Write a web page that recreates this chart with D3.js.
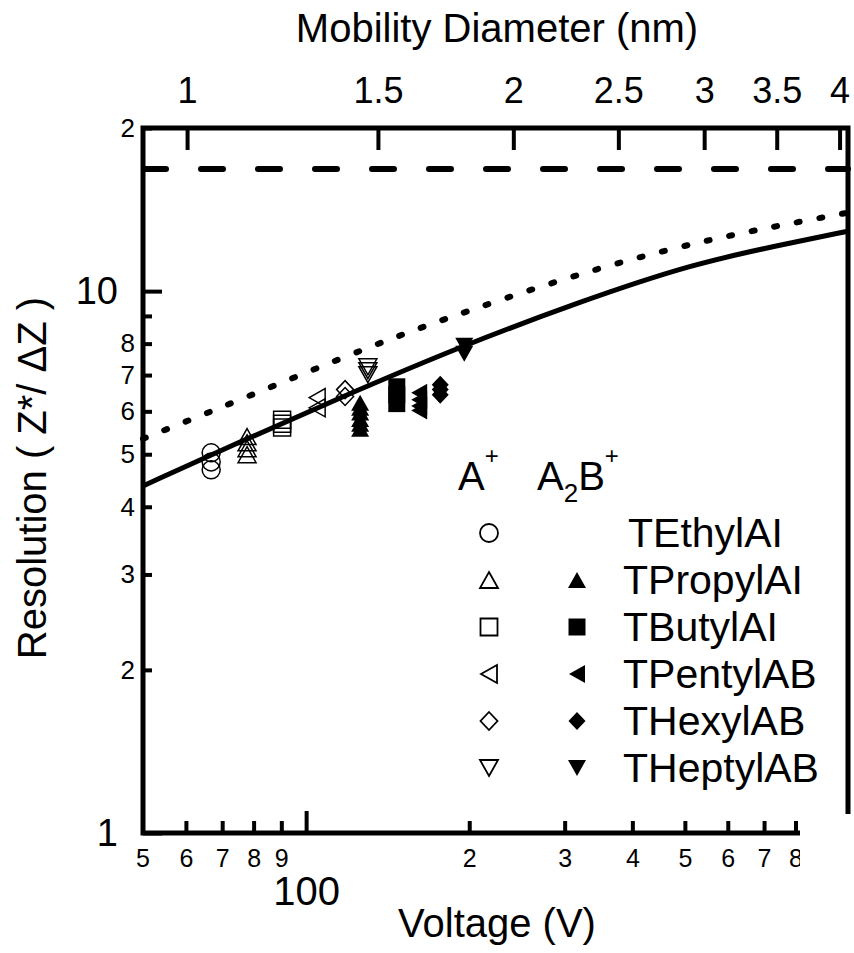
<!DOCTYPE html>
<html>
<head>
<meta charset="utf-8">
<script src="https://cdn.jsdelivr.net/npm/d3@7"></script>
<style>
  body { margin: 0; background: #fff; }
  text { font-family: "Liberation Sans", Arial, sans-serif; fill: #000; }
</style>
</head>
<body>
<script>
// voltage / resolution curves
var solidV = [50, 75.5, 115.6, 192.5, 316.6, 518, 793, 1000];
var solidR = [4.37, 5.27, 6.36, 7.90, 9.52, 11.25, 12.3, 12.9];
var dottedV = [50, 75.5, 133, 196.6, 349, 581, 940, 1000];
var dottedR = [5.34, 6.30, 7.96, 9.17, 11.10, 12.61, 13.79, 13.96];
var dashedR = 16.8;

// compounds and markers
var compounds = ["TEthylAI", "TPropylAI", "TButylAI", "TPentylAB", "THexylAB", "THeptylAB"];
var shapes = ["circle", "up", "square", "left", "diamond", "down"];
var monomerV = [66.8, 77.8, 90.3, 104.8, 118, 130];
var monomerR = [[5.03, 4.84, 4.68], [5.39, 5.25, 5.12, 4.99], [5.79, 5.69, 5.60], [6.36, 6.09], [6.58, 6.39], [7.25, 7.13, 7.01]];
var dimerV = [null, 125.8, 147, 161.7, 176.8, 195.8];
var dimerR = [[], [6.22, 6.09, 5.97, 5.81, 5.69, 5.57], [6.66, 6.44, 6.20], [6.49, 6.30, 6.14, 6.02], [6.72, 6.58, 6.44], [7.93, 7.66]];

// ticks
var xMinorTicks = [60, 70, 80, 90, 200, 300, 400, 500, 600, 700, 800];
var xMinorLabels = ["6", "7", "8", "9", "2", "3", "4", "5", "6", "7", "8"];
var yMinorTicks = [2, 3, 4, 5, 6, 7, 8, 9, 20];
var yMinorLabels = ["2", "3", "4", "5", "6", "7", "8", "", "2"];
var yMajorTicks = [1, 10];
var diamTicks = [1, 1.5, 2, 2.5, 3, 3.5, 4];
var voltsPerNm2 = 60.3; // V = 60.3 * d^2

var width = 854, height = 953;
var svg = d3.select("body").append("svg").attr("width", width).attr("height", height);

var x = d3.scaleLog().domain([50, 1000]).range([143, 848]);
var y = d3.scaleLog().domain([1, 20]).range([833, 128]);
var xTop = d3.scaleLog()
    .domain([Math.sqrt(50 / voltsPerNm2), Math.sqrt(1000 / voltsPerNm2)])
    .range([143, 848]);

function styleAxis(g, fontSize) {
    g.select(".domain").remove();
    g.selectAll(".tick line").attr("stroke", "#000").attr("stroke-width", 4);
    g.selectAll(".tick text").attr("font-size", fontSize).attr("fill", "#000")
        .attr("font-family", "Liberation Sans, Arial, sans-serif");
}

// curves
var line = d3.line().x(function(d) { return x(d[0]); }).y(function(d) { return y(d[1]); })
    .curve(d3.curveBasis);

svg.append("path")
    .datum(solidV.map(function(v, i) { return [v, solidR[i]]; }))
    .attr("d", line).attr("fill", "none").attr("stroke", "#000").attr("stroke-width", 5);

svg.append("path")
    .datum(dottedV.map(function(v, i) { return [v, dottedR[i]]; }))
    .attr("d", line).attr("fill", "none").attr("stroke", "#000").attr("stroke-width", 6)
    .attr("stroke-linecap", "round").attr("stroke-dasharray", "3,20");

svg.append("path")
    .datum([[50, dashedR], [1000, dashedR]])
    .attr("d", line).attr("fill", "none").attr("stroke", "#000").attr("stroke-width", 6)
    .attr("stroke-linecap", "round").attr("stroke-dasharray", "22,35").attr("stroke-dashoffset", -1);

// marker shapes
function shapePath(s) {
    var h = 9;
    if (s === "circle") return d3.symbol().type(d3.symbolCircle).size(Math.PI * h * h)();
    if (s === "up") return "M0,-8L9,8L-9,8Z";
    if (s === "down") return "M0,8L9,-8L-9,-8Z";
    if (s === "left") return "M-8,0L8,-9L8,9Z";
    if (s === "diamond") return "M0,-9L8.5,0L0,9L-8.5,0Z";
    return "M-8.5,-8.5L8.5,-8.5L8.5,8.5L-8.5,8.5Z";
}

var openPts = [], filledPts = [];
compounds.forEach(function(c, i) {
    monomerR[i].forEach(function(r) { openPts.push({ v: monomerV[i], r: r, s: shapes[i] }); });
    dimerR[i].forEach(function(r) { filledPts.push({ v: dimerV[i], r: r, s: shapes[i] }); });
});

svg.selectAll(".open").data(openPts).enter().append("path")
    .attr("class", "open")
    .attr("transform", function(d) { return "translate(" + x(d.v) + "," + y(d.r) + ")"; })
    .attr("d", function(d) { return shapePath(d.s); })
    .attr("fill", "none").attr("stroke", "#000").attr("stroke-width", 1.5);

svg.selectAll(".filled").data(filledPts).enter().append("path")
    .attr("class", "filled")
    .attr("transform", function(d) { return "translate(" + x(d.v) + "," + y(d.r) + ")"; })
    .attr("d", function(d) { return shapePath(d.s); })
    .attr("fill", "#000").attr("stroke", "none");

// axes
svg.append("g").attr("transform", "translate(143,0)")
    .call(d3.axisLeft(y).tickValues(yMinorTicks).tickSizeInner(-9).tickSizeOuter(0).tickPadding(8)
        .tickFormat(function(d, i) { return yMinorLabels[i]; }))
    .call(styleAxis, 26);

svg.append("g").attr("transform", "translate(143,0)")
    .call(d3.axisLeft(y).tickValues(yMajorTicks).tickSizeInner(-19).tickSizeOuter(0).tickPadding(25)
        .tickFormat(d3.format("d")))
    .call(styleAxis, 38);

svg.append("g").attr("transform", "translate(0,833)")
    .call(d3.axisBottom(x).tickValues(xMinorTicks).tickSizeInner(-12).tickSizeOuter(0).tickPadding(16)
        .tickFormat(function(d, i) { return xMinorLabels[i]; }))
    .call(styleAxis, 25);

svg.append("g").attr("transform", "translate(0,833)")
    .call(d3.axisBottom(x).tickValues([100]).tickSizeInner(-22).tickSizeOuter(0).tickPadding(44)
        .tickFormat(d3.format("d")))
    .call(styleAxis, 40);

// "5" label at the left corner
svg.append("text").attr("x", x(50)).attr("y", 867).attr("text-anchor", "middle")
    .attr("font-size", 25).text("5");

svg.append("g").attr("transform", "translate(0,128)")
    .call(d3.axisTop(xTop).tickValues(diamTicks).tickSizeInner(-22).tickSizeOuter(0).tickPadding(25)
        .tickFormat(d3.format("")))
    .call(styleAxis, 36);

// frame
svg.append("rect")
    .attr("x", x.range()[0]).attr("y", y.range()[1])
    .attr("width", x.range()[1] - x.range()[0]).attr("height", y.range()[0] - y.range()[1])
    .attr("fill", "none").attr("stroke", "#000").attr("stroke-width", 5);

// clipped bottom-right corner as in the original
svg.append("rect").attr("x", 800).attr("y", 814).attr("width", 60).attr("height", 70).attr("fill", "#fff");

// axis titles
svg.append("text").attr("x", 497).attr("y", 42).attr("text-anchor", "middle")
    .attr("font-size", 40).text("Mobility Diameter (nm)");

svg.append("text").attr("x", 497).attr("y", 937).attr("text-anchor", "middle")
    .attr("font-size", 40).text("Voltage (V)");

svg.append("text").attr("transform", "translate(46,478) rotate(-90)").attr("text-anchor", "middle")
    .attr("font-size", 40).text("Resolution ( Z*/ \u0394Z )");

// legend
var leg = svg.append("g");
var a1 = leg.append("text").attr("x", 458).attr("y", 490).attr("font-size", 40);
a1.append("tspan").text("A");
a1.append("tspan").attr("font-size", 24).attr("dy", -26).text("+");

var a2 = leg.append("text").attr("x", 537).attr("y", 490).attr("font-size", 40);
a2.append("tspan").text("A");
a2.append("tspan").attr("font-size", 26).attr("dy", 12).text("2");
a2.append("tspan").attr("dy", -12).text("B");
a2.append("tspan").attr("font-size", 24).attr("dy", -26).text("+");

compounds.forEach(function(c, i) {
    var cy = 533 + i * 47;
    leg.append("path").attr("transform", "translate(489," + cy + ")")
        .attr("d", shapePath(shapes[i])).attr("fill", "none").attr("stroke", "#000").attr("stroke-width", 1.8);
    if (dimerR[i].length) {
        leg.append("path").attr("transform", "translate(577," + cy + ")")
            .attr("d", shapePath(shapes[i])).attr("fill", "#000");
    }
    leg.append("text").attr("x", i === 0 ? 628 : 623).attr("y", cy + 14)
        .attr("font-size", 41).text(c);
});
</script>
</body>
</html>
